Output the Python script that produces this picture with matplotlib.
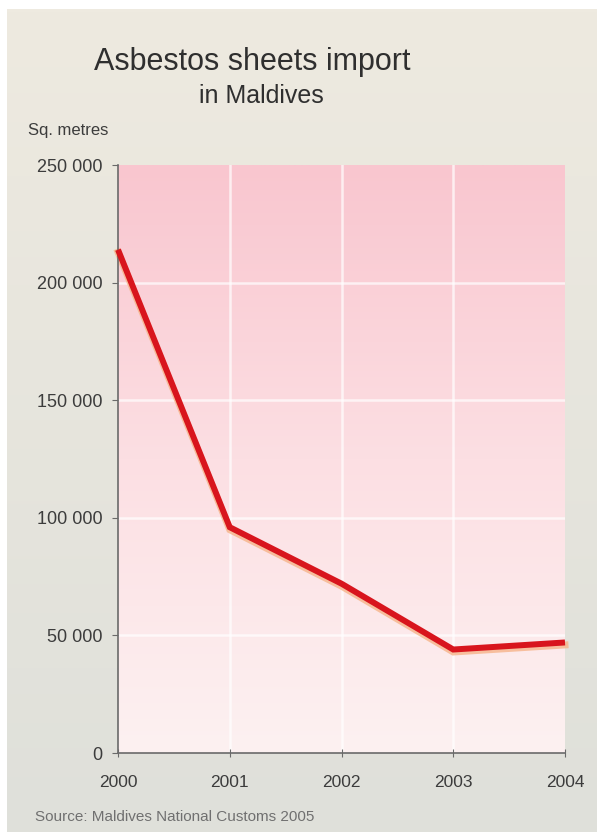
import numpy as np
import matplotlib
matplotlib.use("Agg")
import matplotlib.pyplot as plt
import matplotlib.transforms as mtransforms
from matplotlib.colors import LinearSegmentedColormap

years = [2000, 2001, 2002, 2003, 2004]
imports = [214000, 96000, 72000, 44000, 47000]
yticks = [0, 50000, 100000, 150000, 200000, 250000]
ytick_labels = ["0", "50 000", "100 000", "150 000", "200 000", "250 000"]

plt.rcParams['font.family'] = ['Liberation Sans', 'DejaVu Sans']

W, H = 603, 834
fig = plt.figure(figsize=(W / 100, H / 100), dpi=100)
fig.patch.set_facecolor('white')

# background panel with gradient
bg = fig.add_axes([7 / W, 1 - 832 / H, 590 / W, 823 / H], zorder=0)
bg_cmap = LinearSegmentedColormap.from_list('bg', ['#eeeae0', '#dfe0da'])
bg.imshow(np.linspace(0, 1, 256).reshape(-1, 1), aspect='auto', cmap=bg_cmap,
          extent=[0, 1, 0, 1], origin='upper')
bg.set_axis_off()

ax = fig.add_axes([118 / W, 1 - 753 / H, (565 - 118) / W, (753 - 165) / H], zorder=1)
ax.patch.set_alpha(0)
pink = LinearSegmentedColormap.from_list('pink', ['#f9c6cf', '#fcdfe3', '#fdf1f1'])
ax.imshow(np.linspace(0, 1, 256).reshape(-1, 1), aspect='auto', cmap=pink,
          extent=[2000, 2004, 0, 250000], origin='upper', zorder=0)

ax.set_xlim(2000, 2004)
ax.set_ylim(0, 250000)

for y in yticks[1:-1]:
    ax.axhline(y, color='white', lw=1.8, alpha=0.7, zorder=1)
for x in years[1:-1]:
    ax.axvline(x, color='white', lw=1.8, alpha=0.7, zorder=1)

shadow_tr = mtransforms.offset_copy(ax.transData, fig=fig, x=0, y=-2.5, units='dots')
ax.plot(years, imports, color='#f6b489', lw=5, alpha=0.8, transform=shadow_tr,
        solid_joinstyle='miter', zorder=2, clip_on=False)
ax.plot(years, imports, color='#d8151d', lw=4.3, solid_joinstyle='miter',
        solid_capstyle='butt', zorder=3, clip_on=False)

ax.set_yticks(yticks)
ax.set_yticklabels(ytick_labels)
ax.set_xticks(years)
ax.set_xticklabels([str(y) for y in years])
for s in ['top', 'right']:
    ax.spines[s].set_visible(False)
for s in ['left', 'bottom']:
    ax.spines[s].set_color('#6a6a6a')
    ax.spines[s].set_linewidth(1.2)
ax.tick_params(axis='y', direction='out', length=4, color='#6a6a6a',
               labelsize=13, labelcolor='#3c3c3c', pad=7)
ax.tick_params(axis='x', direction='inout', length=6, color='#6a6a6a',
               labelsize=12.5, labelcolor='#3c3c3c', pad=13)

fig.text(252 / W, 1 - 62 / H, 'Asbestos sheets import', ha='center', va='center',
         fontsize=22, color='#2f2f2f')
fig.text(261 / W, 1 - 96 / H, 'in Maldives', ha='center', va='center',
         fontsize=18, color='#2f2f2f')
fig.text(28 / W, 1 - 130 / H, 'Sq. metres', ha='left', va='center',
         fontsize=12, color='#3c3c3c')
fig.text(35 / W, 1 - 817 / H, 'Source: Maldives National Customs 2005', ha='left',
         va='center', fontsize=11, color='#707070')

fig.savefig('out.png', dpi=100, facecolor=fig.get_facecolor())
